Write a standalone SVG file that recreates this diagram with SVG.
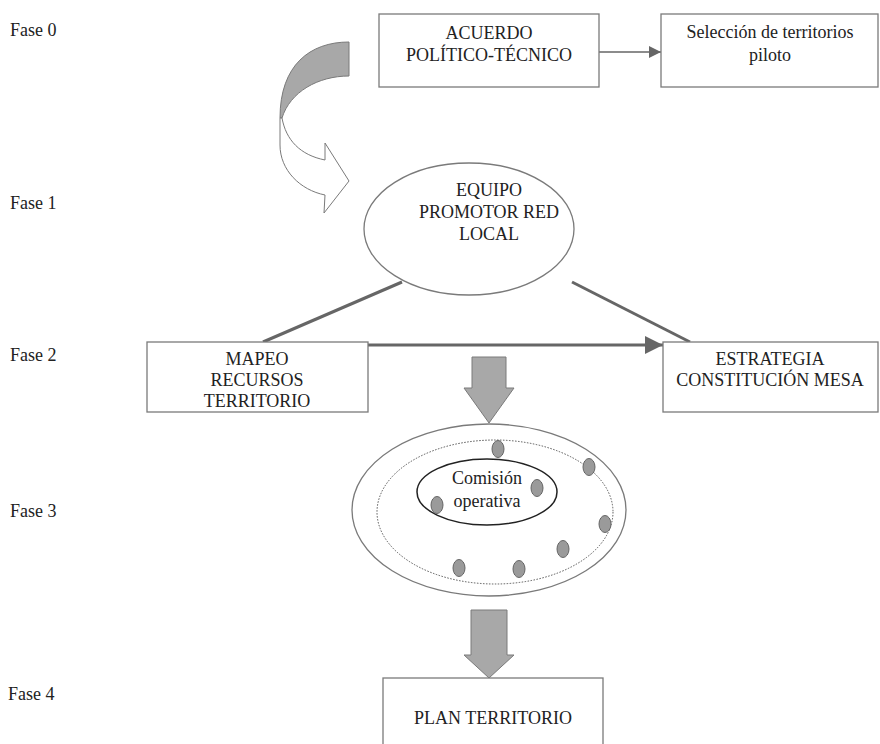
<svg xmlns="http://www.w3.org/2000/svg" width="880" height="744" viewBox="0 0 880 744">
<style>
text{fill:#222}
.fase{font-size:18px}
.n{font-size:18px;text-anchor:middle}
.box{fill:#fff;stroke:#7a7a7a;stroke-width:1.3}
.thick{stroke:#666;stroke-width:3;fill:none}
.thin{stroke:#666;stroke-width:1.5;fill:none}
.block{fill:#a8a8a8;stroke:#7a7a7a;stroke-width:1}
.dot{fill:#9a9a9a;stroke:#666;stroke-width:1}
</style>
<defs>
<marker id="ah" viewBox="0 0 10 10" refX="10" refY="5" markerWidth="8" markerHeight="8" markerUnits="strokeWidth" orient="auto"><path d="M0,0 L10,5 L0,10 Z" fill="#666"/></marker>
<marker id="ah2" viewBox="0 0 10 10" refX="10" refY="5" markerWidth="6" markerHeight="6" markerUnits="strokeWidth" orient="auto"><path d="M0,0 L10,5 L0,10 Z" fill="#666"/></marker>
</defs>
<g font-family="Liberation Serif, Times New Roman, serif">
<g id="fases">
<text class="fase" x="10" y="36">Fase 0</text>
<text class="fase" x="10" y="209">Fase 1</text>
<text class="fase" x="10" y="361">Fase 2</text>
<text class="fase" x="10" y="517">Fase 3</text>
<text class="fase" x="8" y="700">Fase 4</text>
</g>
<g id="connectors">
<line class="thin" x1="599" y1="52" x2="661" y2="52" marker-end="url(#ah)"/>
<path class="block" d="M349,42 C310,42 280,65 280,118 L282,118 C290,92 318,76 349,76 Z"/>
<path d="M282,118 C286,140 300,155 325,160 L325,143 L349,181 L324,213 L325,195 C300,190 280,170 280,145 L280,118 Z" fill="#fff" stroke="#7a7a7a" stroke-width="1"/>
<line class="thick" x1="402" y1="282" x2="263" y2="342"/>
<line class="thick" x1="572" y1="282" x2="690" y2="342"/>
<line class="thick" x1="368" y1="345" x2="663" y2="345" marker-end="url(#ah2)"/>
<path class="block" d="M472,357 L506,357 L506,388 L514,388 L489,423 L464,388 L472,388 Z"/>
<path class="block" d="M471,610 L507,610 L507,655 L514,655 L489,678 L464,655 L471,655 Z"/>
</g>
<g id="acuerdo">
<rect class="box" x="379" y="14" width="220" height="73"/>
<text class="n" x="489" y="39">ACUERDO</text>
<text class="n" x="489" y="61">POLÍTICO-TÉCNICO</text>
</g>
<g id="seleccion">
<rect class="box" x="661" y="14" width="217" height="73"/>
<text class="n" x="770" y="38">Selección de territorios</text>
<text class="n" x="770" y="61">piloto</text>
</g>
<g id="equipo">
<ellipse class="box" cx="469" cy="229" rx="105" ry="66"/>
<text class="n" x="489" y="196">EQUIPO</text>
<text class="n" x="489" y="218">PROMOTOR RED</text>
<text class="n" x="489" y="240">LOCAL</text>
</g>
<g id="mapeo">
<rect class="box" x="147" y="342" width="221" height="70"/>
<text class="n" x="257" y="365">MAPEO</text>
<text class="n" x="257" y="386">RECURSOS</text>
<text class="n" x="257" y="407">TERRITORIO</text>
</g>
<g id="estrategia">
<rect class="box" x="663" y="342" width="215" height="70"/>
<text class="n" x="770" y="365">ESTRATEGIA</text>
<text class="n" x="770" y="386">CONSTITUCIÓN MESA</text>
</g>
<g id="mesa">
<ellipse class="box" cx="489" cy="510" rx="137" ry="86"/>
<ellipse cx="495" cy="512" rx="118" ry="72" fill="none" stroke="#555" stroke-width="1" stroke-dasharray="1.5,1.5"/>
<ellipse cx="487" cy="492" rx="70" ry="33" fill="none" stroke="#222" stroke-width="1.5"/>
<text class="n" x="487" y="484">Comisión</text>
<text class="n" x="487" y="507">operativa</text>
<ellipse class="dot" cx="498" cy="449" rx="6" ry="8.5"/>
<ellipse class="dot" cx="589" cy="467" rx="6" ry="8.5"/>
<ellipse class="dot" cx="537" cy="488" rx="6" ry="8.5"/>
<ellipse class="dot" cx="437" cy="505" rx="6" ry="8.5"/>
<ellipse class="dot" cx="605" cy="524" rx="6" ry="8.5"/>
<ellipse class="dot" cx="563" cy="549" rx="6" ry="8.5"/>
<ellipse class="dot" cx="459" cy="568" rx="6" ry="8.5"/>
<ellipse class="dot" cx="519" cy="569" rx="6" ry="8.5"/>
</g>
<g id="plan">
<rect class="box" x="383" y="678" width="220" height="70"/>
<text class="n" x="493" y="724">PLAN TERRITORIO</text>
</g>
</g>
</svg>
